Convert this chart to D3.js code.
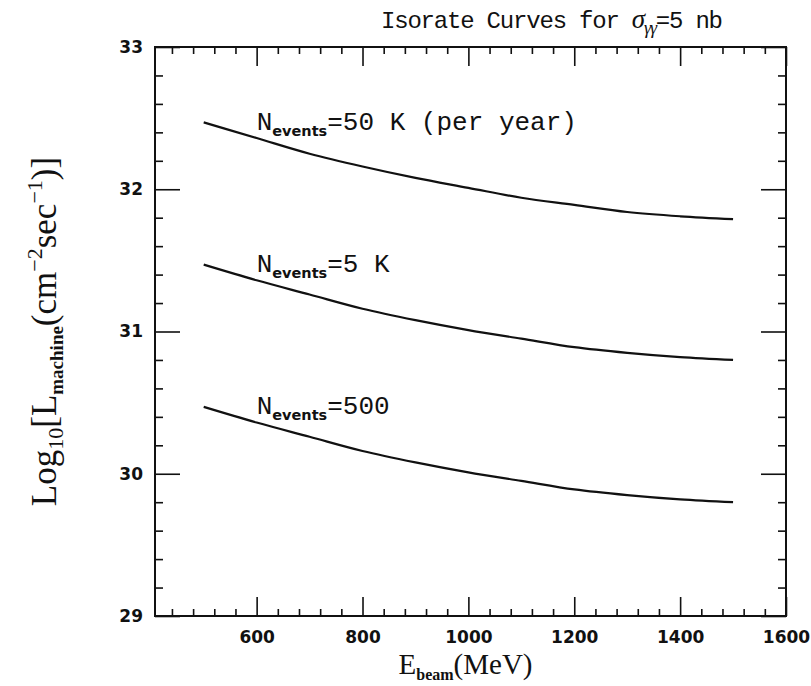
<!DOCTYPE html>
<html>
<head>
<meta charset="utf-8">
<script src="https://cdn.jsdelivr.net/npm/d3@7"></script>
<style>
  body { margin: 0; background: #fff; }
  svg text { fill: #111; }
</style>
</head>
<body>
<div id="chart"></div>
<script>
// beam energy (MeV) and log10 luminosity
var energy = [500, 600, 700, 800, 900, 1000, 1100, 1200, 1300, 1400, 1500];
var lum50k = [32.47, 32.36, 32.25, 32.16, 32.08, 32.01, 31.94, 31.89, 31.84, 31.81, 31.79];
var lum5k  = [31.47, 31.36, 31.26, 31.16, 31.08, 31.01, 30.95, 30.89, 30.85, 30.82, 30.80];
var lum500 = [30.47, 30.36, 30.26, 30.16, 30.08, 30.01, 29.95, 29.89, 29.85, 29.82, 29.80];
var curveLabels = ["=50 K (per year)", "=5 K", "=500"];
var xTicks = [600, 800, 1000, 1200, 1400, 1600];
var yTicks = [29, 30, 31, 32, 33];

var svgWidth = 811, svgHeight = 686;
var margin = { top: 47, right: 25, bottom: 70, left: 155 };
var width = svgWidth - margin.left - margin.right;
var height = svgHeight - margin.top - margin.bottom;

var svg = d3.select("#chart")
    .append("svg")
    .attr("width", svgWidth)
    .attr("height", svgHeight)
    .append("g")
    .attr("transform", "translate(" + margin.left + "," + margin.top + ")");

var x = d3.scaleLinear().domain([408, 1600]).range([0, width]);
var y = d3.scaleLinear().domain([29, 33]).range([height, 0]);

var xMinor = d3.range(440, 1600, 40).filter(v => v % 200 !== 0);
var yMinor = d3.range(29.2, 33, 0.2).filter(v => Math.abs(v - Math.round(v)) > 0.01);

function styleAxis(g) {
    g.select(".domain").remove();
    g.selectAll(".tick line").attr("stroke", "#111").attr("stroke-width", 1.6);
    g.selectAll("text")
        .style("font-family", "'DejaVu Sans', sans-serif")
        .style("font-weight", "bold")
        .style("font-size", "17px")
        .attr("fill", "#111");
}

// bottom / top axes
svg.append("g").attr("transform", "translate(0," + height + ")")
    .call(d3.axisBottom(x).tickValues(xTicks).tickSize(-19).tickPadding(15).tickFormat(d3.format("d")))
    .call(styleAxis);
svg.append("g").attr("transform", "translate(0," + height + ")")
    .call(d3.axisBottom(x).tickValues(xMinor).tickSize(-7).tickFormat(""))
    .call(styleAxis);
svg.append("g")
    .call(d3.axisTop(x).tickValues(xTicks).tickSize(-19).tickFormat(""))
    .call(styleAxis);
svg.append("g")
    .call(d3.axisTop(x).tickValues(xMinor).tickSize(-7).tickFormat(""))
    .call(styleAxis);

// left / right axes
svg.append("g")
    .call(d3.axisLeft(y).tickValues(yTicks).tickSize(-25).tickPadding(12).tickFormat(d3.format("d")))
    .call(styleAxis);
svg.append("g")
    .call(d3.axisLeft(y).tickValues(yMinor).tickSize(-8).tickFormat(""))
    .call(styleAxis);
svg.append("g").attr("transform", "translate(" + width + ",0)")
    .call(d3.axisRight(y).tickValues(yTicks).tickSize(-25).tickFormat(""))
    .call(styleAxis);
svg.append("g").attr("transform", "translate(" + width + ",0)")
    .call(d3.axisRight(y).tickValues(yMinor).tickSize(-8).tickFormat(""))
    .call(styleAxis);

// frame
svg.append("rect")
    .attr("width", width).attr("height", height)
    .attr("fill", "none").attr("stroke", "#111").attr("stroke-width", 2);

// curves
var line = d3.line()
    .x((d, i) => x(energy[i]))
    .y(d => y(d))
    .curve(d3.curveMonotoneX);

[lum50k, lum5k, lum500].forEach(function(series, k) {
    svg.append("path")
        .datum(series)
        .attr("d", line)
        .attr("fill", "none")
        .attr("stroke", "#111")
        .attr("stroke-width", 2.2);

    var lbl = svg.append("text")
        .attr("x", x(600))
        .attr("y", y(series[0] - 0.05))
        .style("font-family", "'Liberation Mono', monospace")
        .style("font-size", "26px");
    lbl.append("tspan").text("N");
    lbl.append("tspan").attr("dy", 6)
        .style("font-family", "'DejaVu Sans', sans-serif")
        .style("font-weight", "bold").style("font-size", "14.5px")
        .text("events");
    lbl.append("tspan").attr("dy", -6).text(curveLabels[k]);
});

// title
var title = svg.append("text")
    .attr("x", 226)
    .attr("y", -19)
    .style("font-family", "'Liberation Mono', monospace")
    .style("font-size", "24px")
    .style("letter-spacing", "-1.2px");
title.append("tspan").text("Isorate Curves for ");
title.append("tspan").style("font-family", "'Liberation Serif', serif").style("font-style", "italic")
    .style("font-size", "27px").text("σ");
title.append("tspan").attr("dy", 6).style("font-family", "'Liberation Serif', serif")
    .style("font-style", "italic").style("font-size", "18px").text("γγ");
title.append("tspan").attr("dy", -6).text("=5 nb");

// x axis title
var xt = svg.append("text")
    .attr("x", width / 2 - 5)
    .attr("y", height + 58)
    .attr("text-anchor", "middle")
    .style("font-family", "'Liberation Serif', serif")
    .style("font-size", "29px");
xt.append("tspan").text("E");
xt.append("tspan").attr("dy", 6).style("font-size", "16px").style("font-weight", "bold").text("beam");
xt.append("tspan").attr("dy", -6).text("(MeV)");

// y axis title
var yt = svg.append("text")
    .attr("transform", "translate(" + (-99) + "," + (height / 2) + ") rotate(-90)")
    .attr("text-anchor", "middle")
    .style("font-family", "'Liberation Serif', serif")
    .style("font-size", "35px");
yt.append("tspan").text("Log");
yt.append("tspan").attr("dy", 7).style("font-size", "22px").text("10");
yt.append("tspan").attr("dy", -7).text("[L");
yt.append("tspan").attr("dy", 7).style("font-size", "19px").style("font-weight", "bold").text("machine");
yt.append("tspan").attr("dy", -7).text("(cm");
yt.append("tspan").attr("dy", -14).style("font-size", "22px").text("−2");
yt.append("tspan").attr("dy", 14).text("sec");
yt.append("tspan").attr("dy", -14).style("font-size", "22px").text("−1");
yt.append("tspan").attr("dy", 14).text(")]");
</script>
</body>
</html>
